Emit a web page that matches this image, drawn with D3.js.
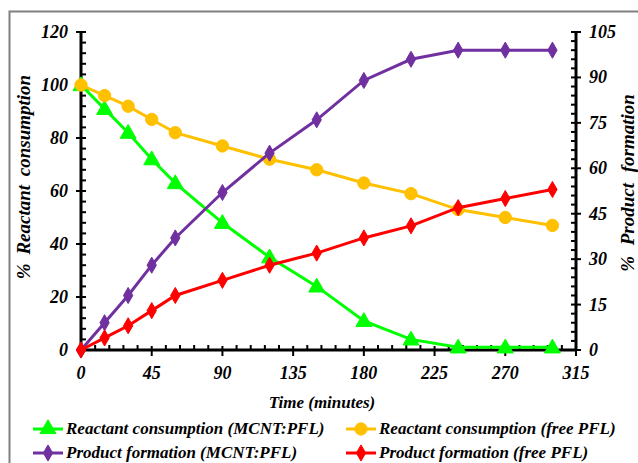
<!DOCTYPE html>
<html><head><meta charset="utf-8">
<script src="https://cdn.jsdelivr.net/npm/d3@7"></script>
</head><body style="margin:0;background:#fff"><svg id="c" width="638" height="463"></svg>
<script>
const times = [0,15,30,45,60,90,120,150,180,210,240,270,300];
const reactMCNT = [100,91,82,72,63,48,35,24,11,4,1,1,1];
const reactFree = [100,96,92,87,82,77,72,68,63,59,53,50,47];
const prodMCNT = [0,9,18,28,37,52,65,76,89,96,99,99,99];
const prodFree = [0,4,8,13,18,23,28,32,37,41,47,50,53];
const xTicks = [0,45,90,135,180,225,270,315];
const yLeftTicks = [0,20,40,60,80,100,120];
const yRightTicks = [0,15,30,45,60,75,90,105];

const series = [
  {name:"Reactant consumption (MCNT:PFL)", vals:reactMCNT, axis:"L", color:"#00ff00", marker:"tri"},
  {name:"Reactant consumption (free PFL)", vals:reactFree, axis:"L", color:"#ffc000", marker:"circ"},
  {name:"Product formation (MCNT:PFL)", vals:prodMCNT, axis:"R", color:"#7030a0", marker:"dia"},
  {name:"Product formation (free PFL)", vals:prodFree, axis:"R", color:"#ff0000", marker:"dia"}
];

const svg = d3.select("#c");
const K = 0.5;
function txt(g, fs, px, py, rot){
  return g.append("text").attr("x",0).attr("y",0)
    .attr("transform",`translate(${px},${py})${rot?` rotate(${rot})`:""} scale(${K})`)
    .attr("font-family","Liberation Serif").attr("font-size",fs/K)
    .attr("font-weight","bold").attr("font-style","italic").attr("fill","#000");
}
const L=81, R=576, T=32, B=350;
const x = d3.scaleLinear().domain([0,315]).range([L,R]);
const yL = d3.scaleLinear().domain([0,120]).range([B,T]);
const yR = d3.scaleLinear().domain([0,105]).range([B,T]);

svg.append("path").attr("d",`M9.5,463 V11.5 H638`).attr("fill","none").attr("stroke","#808080").attr("stroke-width",2);

const sym = {tri:d3.symbolTriangle, circ:d3.symbolCircle, dia:d3.symbolDiamond};
const size = {tri:110, circ:120, dia:75};
function marker(g, m, color){
  return g.append("path").attr("d", d3.symbol().type(sym[m]).size(size[m])())
    .attr("fill",color).attr("stroke",color).attr("stroke-width",1);
}

const ax = svg.append("g").attr("stroke","#000").attr("fill","none");
function minor(ticks,n){const out=[];for(let i=0;i<ticks.length-1;i++){const s=(ticks[i+1]-ticks[i])/n;for(let k=1;k<n;k++)out.push(ticks[i]+k*s);}return out;}
ax.append("line").attr("x1",L).attr("x2",L).attr("y1",T-1).attr("y2",B+1).attr("stroke-width",3);
yLeftTicks.forEach(v=>ax.append("line").attr("x1",L-5).attr("x2",L+5).attr("y1",yL(v)).attr("y2",yL(v)).attr("stroke-width",2));
minor(yLeftTicks,5).forEach(v=>ax.append("line").attr("x1",L).attr("x2",L+5).attr("y1",yL(v)).attr("y2",yL(v)).attr("stroke-width",2));
ax.append("line").attr("x1",R).attr("x2",R).attr("y1",T-1).attr("y2",B+1).attr("stroke-width",3);
yRightTicks.forEach(v=>ax.append("line").attr("x1",R-5).attr("x2",R+5).attr("y1",yR(v)).attr("y2",yR(v)).attr("stroke-width",2));
minor(yRightTicks,5).forEach(v=>ax.append("line").attr("x1",R-5).attr("x2",R).attr("y1",yR(v)).attr("y2",yR(v)).attr("stroke-width",2));
ax.append("line").attr("x1",L).attr("x2",R).attr("y1",B).attr("y2",B).attr("stroke-width",3);
xTicks.forEach(v=>ax.append("line").attr("x1",x(v)).attr("x2",x(v)).attr("y1",B-4).attr("y2",B+6).attr("stroke-width",2));
minor(xTicks,5).forEach(v=>ax.append("line").attr("x1",x(v)).attr("x2",x(v)).attr("y1",B-5).attr("y2",B).attr("stroke-width",2));

const tl = svg.append("g");
yLeftTicks.forEach(v=>txt(tl,18,68,yL(v)+6).attr("text-anchor","end").text(v));
yRightTicks.forEach(v=>txt(tl,18,589,yR(v)+6).attr("text-anchor","start").text(v));
xTicks.forEach(v=>txt(tl,18,x(v),379).attr("text-anchor","middle").text(v));

txt(svg,17,322,408).attr("text-anchor","middle").text("Time (minutes)");
txt(svg,19,30,177,-90).attr("text-anchor","middle").attr("word-spacing",8).text("% Reactant consumption");
txt(svg,19,634,183,-90).attr("text-anchor","middle").attr("word-spacing",12).text("% Product formation");

series.forEach(s=>{
  const y = s.axis==="L"?yL:yR;
  const g = svg.append("g");
  const line = d3.line().x((d,i)=>x(times[i])).y(d=>y(d));
  g.append("path").attr("d",line(s.vals)).attr("fill","none").attr("stroke",s.color).attr("stroke-width",3);
  s.vals.forEach((v,i)=>marker(g,s.marker,s.color).attr("transform",`translate(${x(times[i])},${y(v)+(s.marker==="tri"?1:0)})`));
});

const lg = svg.append("g");
const pos = [[33,429],[346,429],[33,453],[346,453]];
series.forEach((s,i)=>{
  const [lx,ly]=pos[i];
  lg.append("line").attr("x1",lx).attr("x2",lx+30).attr("y1",ly).attr("y2",ly).attr("stroke",s.color).attr("stroke-width",3);
  marker(lg,s.marker,s.color).attr("transform",`translate(${lx+15},${ly})`);
  txt(lg,17,lx+33,ly+5).text(s.name);
});
</script></body></html>
